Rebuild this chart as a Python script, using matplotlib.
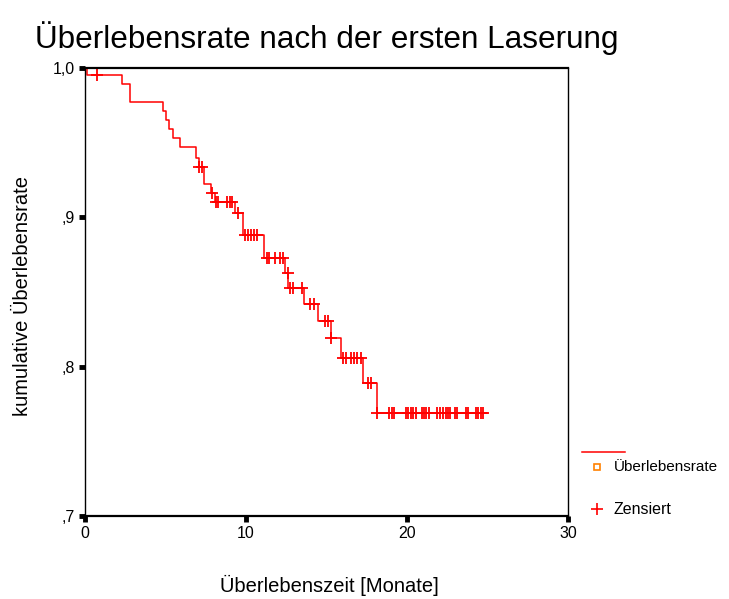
import matplotlib.pyplot as plt
from matplotlib.lines import Line2D

plt.rcParams['font.family'] = ['Liberation Sans', 'DejaVu Sans']

# Kaplan-Meier steps: time (Monate) and survival after each event
event_times = [0.1, 2.3, 2.8, 4.85, 5.0, 5.2, 5.45, 5.9, 6.9, 7.05, 7.42, 7.8,
               8.05, 9.3, 9.8, 11.12, 12.45, 12.6, 13.6, 14.45, 15.25, 15.88,
               17.25, 18.15]
survival = [0.995, 0.989, 0.977, 0.971, 0.965, 0.959, 0.953, 0.947, 0.940,
            0.934, 0.922, 0.916, 0.910, 0.903, 0.888, 0.873, 0.863, 0.853,
            0.842, 0.8305, 0.819, 0.806, 0.789, 0.769]
end_time = 24.95

# censored observations (time, survival level)
censor_times = [0.76,
                7.1, 7.25,
                7.9,
                8.12, 8.28, 8.84, 8.98, 9.1,
                9.52,
                9.94, 10.1, 10.29, 10.5, 10.66,
                11.28, 11.45, 11.8, 12.11, 12.32,
                12.6,
                12.75, 12.92, 13.48,
                14.0, 14.2,
                14.9, 15.1,
                15.3,
                16.04, 16.21, 16.5, 16.71, 16.91, 17.12,
                17.55, 17.75,
                18.12, 18.9, 19.04, 19.19, 19.92, 20.04, 20.23, 20.39, 20.56,
                20.91, 21.06, 21.18, 21.39, 21.88, 22.05, 22.22, 22.42, 22.57,
                22.67, 22.98, 23.12, 23.66, 23.81, 24.29, 24.43, 24.58, 24.74]
censor_surv = [0.995,
               0.934, 0.934,
               0.916,
               0.910, 0.910, 0.910, 0.910, 0.910,
               0.903,
               0.888, 0.888, 0.888, 0.888, 0.888,
               0.873, 0.873, 0.873, 0.873, 0.873,
               0.863,
               0.853, 0.853, 0.853,
               0.842, 0.842,
               0.8305, 0.8305,
               0.819,
               0.806, 0.806, 0.806, 0.806, 0.806, 0.806,
               0.789, 0.789] + [0.769] * 27

y_ticks = [0.7, 0.8, 0.9, 1.0]
y_tick_labels = [',7', ',8', ',9', '1,0']
x_ticks = [0, 10, 20, 30]

fig = plt.figure(figsize=(7.29, 5.99), dpi=100)
ax = fig.add_axes([0.1166, 0.1386, 0.6626, 0.7479])

# survival curve as a step function
xs = [0] + event_times + [end_time]
ys = [1.0] + survival + [survival[-1]]
ax.step(xs, ys, where='post', color='red', linewidth=1.1)
ax.plot(censor_times, censor_surv, '+', color='red', markersize=9,
        markeredgewidth=1.3, linestyle='none')

ax.set_xlim(0, 30)
ax.set_ylim(0.7, 1.0)
ax.set_xticks(x_ticks)
ax.set_yticks(y_ticks)
ax.set_yticklabels(y_tick_labels)
ax.tick_params(axis='both', length=4, width=3.5, labelsize=11.5, pad=3)
for side in ['top', 'bottom']:
    ax.spines[side].set_linewidth(1.6)
for side in ['left', 'right']:
    ax.spines[side].set_linewidth(1.0)

ax.set_ylabel('kumulative Überlebensrate', fontsize=14.5, va='center')
ax.yaxis.set_label_coords(-0.13, 0.49)
ax.set_xlabel('Überlebenszeit [Monate]', fontsize=14.5, va='center')
ax.xaxis.set_label_coords(0.505, -0.156)
fig.text(35 / 729, 1 - 38 / 599, 'Überlebensrate nach der ersten Laserung',
         fontsize=22.7, ha='left', va='center')

# legend drawn beside the plot
fig.add_artist(Line2D([582 / 729, 625 / 729], [1 - 452 / 599, 1 - 452 / 599],
                      color='red', linewidth=1.1))
fig.add_artist(Line2D([597 / 729], [1 - 467 / 599], marker='s', markersize=5,
                      markerfacecolor='white', markeredgecolor='#ff8000',
                      markeredgewidth=1.2, linestyle='none'))
fig.add_artist(Line2D([597 / 729], [1 - 509 / 599], marker='+', markersize=9,
                      color='red', markeredgewidth=1.2, linestyle='none'))
fig.text(614 / 729, 1 - 467 / 599, 'Überlebensrate', fontsize=11, va='center')
fig.text(614 / 729, 1 - 509 / 599, 'Zensiert', fontsize=11.5, va='center')

plt.savefig('out.png', dpi=100)
